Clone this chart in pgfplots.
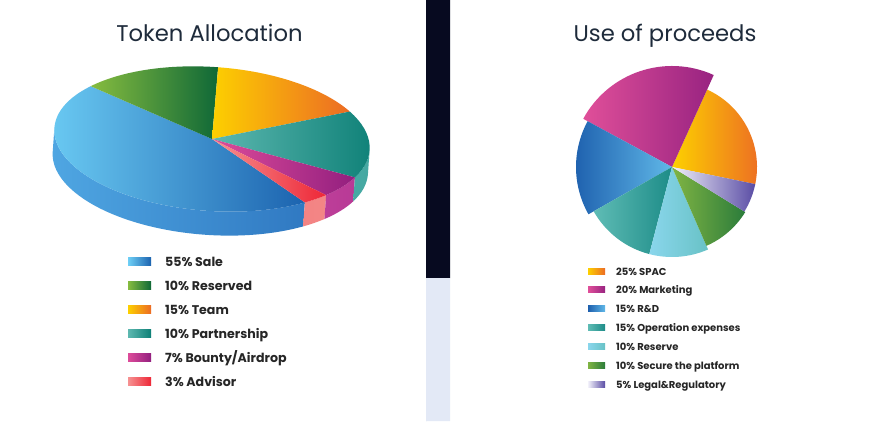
\documentclass[border=0pt]{standalone}
\usepackage{fontspec}
\setmainfont{Poppins}
\usepackage{pgfplots}
\pgfplotsset{compat=1.18}
\definecolor{barDark}{HTML}{070A20}
\definecolor{barLight}{HTML}{E3E9F6}
\definecolor{titlec}{HTML}{1E2B3B}
\definecolor{legtext}{HTML}{262626}
\definecolor{saleL}{HTML}{6ECFF6}\definecolor{saleR}{HTML}{1C63AF}
\definecolor{resL}{HTML}{86BC3F}\definecolor{resR}{HTML}{0F6837}
\definecolor{teamL}{HTML}{FDD000}\definecolor{teamR}{HTML}{EC6B24}
\definecolor{partL}{HTML}{5DB8B0}\definecolor{partR}{HTML}{0E8077}
\definecolor{bountyL}{HTML}{DD4C9A}\definecolor{bountyR}{HTML}{931F7F}
\definecolor{advL}{HTML}{F69292}\definecolor{advR}{HTML}{EE2737}
\definecolor{saleSL}{HTML}{4FA6E2}\definecolor{saleSR}{HTML}{3079C2}
\definecolor{advSL}{HTML}{F47878}\definecolor{advSR}{HTML}{F38686}
\definecolor{bountySL}{HTML}{CE4CA2}\definecolor{bountySR}{HTML}{B83A96}
\definecolor{partSL}{HTML}{55B5AD}\definecolor{partSR}{HTML}{45A8A2}
\definecolor{mktL}{HTML}{E04F99}\definecolor{mktR}{HTML}{982381}
\definecolor{rdL}{HTML}{1D5FAD}\definecolor{rdR}{HTML}{60B8E8}
\definecolor{opL}{HTML}{5FBCB5}\definecolor{opR}{HTML}{1D8C88}
\definecolor{resvL}{HTML}{8AD6EC}\definecolor{resvR}{HTML}{68C2C6}
\definecolor{secL}{HTML}{80B443}\definecolor{secR}{HTML}{2B7C3B}
\definecolor{legL}{HTML}{F2F1FA}\definecolor{legR}{HTML}{5A4DA5}
% left 3D pie: centre (212,282), radii 158 x 72, tilt -4
\newcommand\topslice[4]{\shade[left color=#3,right color=#4,rotate around={-4:(212,282)}] (212,282) -- ++(#1:158pt and 72pt) arc[start angle=#1,end angle=#2,x radius=158pt,y radius=72pt] -- cycle;}
\newcommand\sideslice[4]{\shade[left color=#3,right color=#4,rotate around={-4:(212,282)}] (212,282) ++(#1:158pt and 72pt) arc[start angle=#1,end angle=#2,x radius=158pt,y radius=72pt] -- ++(0pt,-24pt) arc[start angle=#2,end angle=#1,x radius=158pt,y radius=72pt] -- cycle;}
% right pie: centre (672,254)
\newcommand\rslice[5]{\shade[left color=#4,right color=#5] (672,254) -- ++(#1:#3pt) arc[start angle=#1,end angle=#2,radius=#3pt] -- cycle;}
\newcommand\lsw[3]{\shade[left color=#2,right color=#3] (128,#1-4) rectangle (151,#1+4);}
\newcommand\rsw[3]{\shade[left color=#2,right color=#3] (588,#1-3) rectangle (605,#1+3);}
\begin{document}
\begin{tikzpicture}
\begin{axis}[width=880pt,height=421pt,scale only axis,xmin=0,xmax=880,ymin=0,ymax=421,hide axis,clip=false]
\addplot[draw=none,fill=white] coordinates {(0,0)(880,0)(880,421)(0,421)} \closedcycle;
\addplot[draw=none,fill=barDark] coordinates {(426,143)(450,143)(450,421)(426,421)} \closedcycle;
\addplot[draw=none,fill=barLight] coordinates {(426,0)(450,0)(450,143)(426,143)} \closedcycle;
% sides
\sideslice{180}{307.9}{saleSL}{saleSR}
\sideslice{307.9}{318.2}{advSL}{advSR}
\sideslice{318.2}{336.8}{bountySL}{bountySR}
\sideslice{336.8}{360}{partSL}{partSR}
% top faces
\topslice{142.1}{307.9}{saleL}{saleR}
\topslice{89.6}{142.1}{resL}{resR}
\topslice{30.9}{89.6}{teamL}{teamR}
\topslice{-23.2}{30.9}{partL}{partR}
\topslice{-41.8}{-23.2}{bountyL}{bountyR}
\topslice{-52.1}{-41.8}{advL}{advR}
% right pie
\rslice{-11.6}{65.6}{85}{teamL}{teamR}
\rslice{65.6}{151.5}{101}{mktL}{mktR}
\rslice{151.5}{209.5}{96}{rdL}{rdR}
\rslice{209.5}{255.4}{90}{opL}{opR}
\rslice{255.4}{293.6}{90}{resvL}{resvR}
\rslice{293.6}{328.4}{86}{secL}{secR}
\rslice{328.4}{348.4}{85}{legL}{legR}
% titles
\node[anchor=base,inner sep=0pt,font=\fontsize{22.7}{26}\selectfont,text=titlec] at (209.5,379) {Token Allocation};
\node[anchor=base,inner sep=0pt,font=\fontsize{22.7}{26}\selectfont,text=titlec] at (665,379) {Use of proceeds};
% left legend
\lsw{160}{saleL}{saleR}
\lsw{136}{resL}{resR}
\lsw{112}{teamL}{teamR}
\lsw{88}{partL}{partR}
\lsw{64}{bountyL}{bountyR}
\lsw{40}{advL}{advR}
\begin{scope}[every node/.style={anchor=base west,inner sep=0pt,font=\bfseries\fontsize{12.6}{15}\selectfont,text=legtext}]
\node at (165,155) {55\% Sale};
\node at (165,131) {10\% Reserved};
\node at (165,107) {15\% Team};
\node at (165,83) {10\% Partnership};
\node at (165,59) {7\% Bounty/Airdrop};
\node at (165,35) {3\% Advisor};
\end{scope}
% right legend
\rsw{150}{teamL}{teamR}
\rsw{131.17}{mktL}{mktR}
\rsw{112.33}{rdL}{rdR}
\rsw{93.5}{opL}{opR}
\rsw{74.67}{resvL}{resvR}
\rsw{55.83}{secL}{secR}
\rsw{37}{legL}{legR}
\begin{scope}[every node/.style={anchor=base west,inner sep=0pt,font=\bfseries\fontsize{10}{12}\selectfont,text=legtext}]
\node at (616,146) {25\% SPAC};
\node at (616,127.17) {20\% Marketing};
\node at (616,108.33) {15\% R\&D};
\node at (616,89.5) {15\% Operation expenses};
\node at (616,70.67) {10\% Reserve};
\node at (616,51.83) {10\% Secure the platform};
\node at (616,33) {5\% Legal\&Regulatory};
\end{scope}
\end{axis}
\end{tikzpicture}
\end{document}
